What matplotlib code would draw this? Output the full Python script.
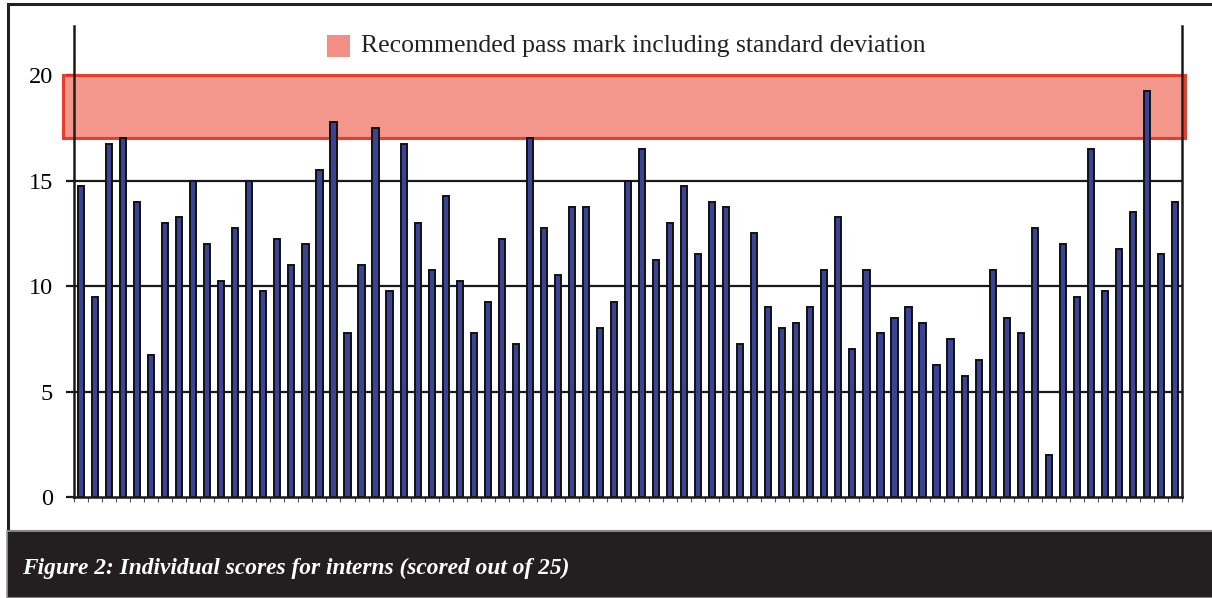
import matplotlib.pyplot as plt
from matplotlib.patches import Rectangle

# scores for each intern, read left to right
scores = [14.75, 9.5, 16.75, 17.0, 14.0, 6.75, 13.0, 13.25, 15.0, 12.0,
          10.25, 12.75, 15.0, 9.75, 12.25, 11.0, 12.0, 15.5, 17.75, 7.75,
          11.0, 17.5, 9.75, 16.75, 13.0, 10.75, 14.25, 10.25, 7.75, 9.25,
          12.25, 7.25, 17.0, 12.75, 10.5, 13.75, 13.75, 8.0, 9.25, 15.0,
          16.5, 11.25, 13.0, 14.75, 11.5, 14.0, 13.75, 7.25, 12.5, 9.0,
          8.0, 8.25, 9.0, 10.75, 13.25, 7.0, 10.75, 7.75, 8.5, 9.0,
          8.25, 6.25, 7.5, 5.75, 6.5, 10.75, 8.5, 7.75, 12.75, 2.0,
          12.0, 9.5, 16.5, 9.75, 11.75, 13.5, 19.25, 11.5, 14.0]
pass_low, pass_high = 17, 20
y_ticks = [0, 5, 10, 15, 20]
legend_label = "Recommended pass mark including standard deviation"
caption = "Figure 2: Individual scores for interns (scored out of 25)"

W, H = 1212, 598
fig = plt.figure(figsize=(W / 100, H / 100), dpi=100)
fig.patch.set_facecolor("white")

# outer frame and dark caption band
fig.patches.append(Rectangle((8 / W, (H - 531) / H), 1.2, 527 / H, transform=fig.transFigure,
                             fill=False, edgecolor="#222222", linewidth=2.2, zorder=0))
fig.patches.append(Rectangle((7 / W, 0), 1.2, (H - 531) / H, transform=fig.transFigure,
                             facecolor="#231f20", edgecolor="#9a9a9a", linewidth=1.2, zorder=1))

ax = fig.add_axes([74 / W, 1 - 497 / H, (1182 - 74) / W, (497 - 26) / H])
n = len(scores)
ax.set_xlim(-0.5, n - 0.5)
ax.set_ylim(0, (497 - 26) / 21.1)

for y in y_ticks[1:-1]:
    ax.axhline(y, color="#1a1a1a", linewidth=1.6, zorder=1)

ax.bar(range(n), scores, width=0.44, color="#3b4395", edgecolor="#111111",
       linewidth=1.4, zorder=3)

# pass mark band, slightly wider than the plot area
span = (1185 - 63) / ((1182 - 74) / n)
x0 = -0.5 - (74 - 63) / ((1182 - 74) / n)
ax.add_patch(Rectangle((x0, pass_low), span, pass_high - pass_low, facecolor="#f28d82",
                       edgecolor="#e5321f", linewidth=2.2, alpha=0.92, clip_on=False, zorder=2))

ax.spines["top"].set_visible(False)
for side in ["left", "right", "bottom"]:
    ax.spines[side].set_linewidth(1.8)
    ax.spines[side].set_color("#1a1a1a")
    ax.spines[side].set_zorder(4)

ax.set_xticks([i - 0.5 for i in range(n + 1)])
ax.set_xticklabels([])
ax.tick_params(axis="x", direction="out", length=3.5, width=0.8, color="#555555")
ax.set_yticks(y_ticks)
ax.set_yticklabels([str(v) for v in y_ticks], family="Liberation Serif", fontsize=17.5)
ax.tick_params(axis="y", direction="out", length=6, width=1.6, pad=9, color="#1a1a1a")

# legend
fig.patches.append(Rectangle((327 / W, 1 - 57 / H), 23 / W, 22 / H, transform=fig.transFigure,
                             facecolor="#f28f85", edgecolor="none", zorder=5))
fig.text(361 / W, 1 - 46 / H, legend_label, family="Liberation Serif", fontsize=18.5,
         color="#222222", va="center", ha="left")

fig.text(22 / W, 1 - 568 / H, caption, family="Liberation Serif", style="italic",
         weight="bold", fontsize=16.8, color="white", va="center", ha="left")

fig.savefig("out.png", dpi=100)
